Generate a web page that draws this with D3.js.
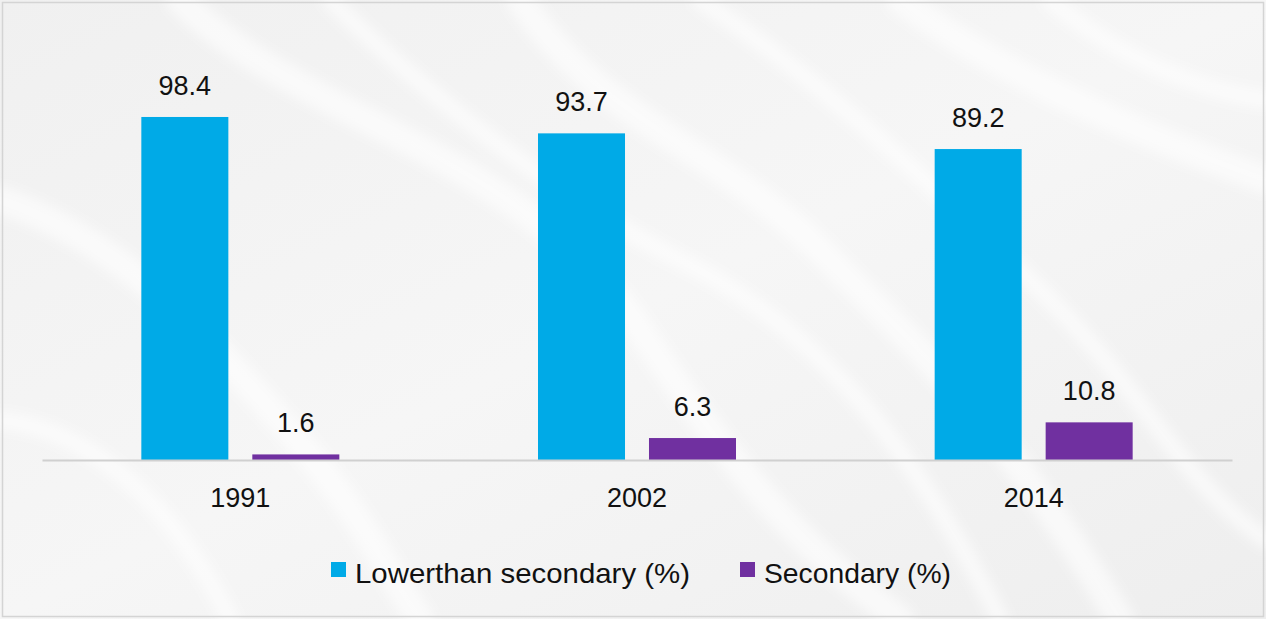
<!DOCTYPE html>
<html><head><meta charset="utf-8">
<script src="https://cdn.jsdelivr.net/npm/d3@7"></script>
<style>
html,body{margin:0;padding:0;background:#f4f4f4;}
svg{display:block;}
text{font-family:"Liberation Sans Narrow","Liberation Sans",Arial,sans-serif;fill:#111;}
</style></head>
<body>
<svg id="chart" width="1266" height="619"></svg>
<script>
const categories = ["1991", "2002", "2014"];
const seriesNames = ["Lowerthan secondary (%)", "Secondary (%)"];
const lowerThanSecondary = [98.4, 93.7, 89.2];
const secondary = [1.6, 6.3, 10.8];
const colors = ["#00aae7", "#7030a0"];

const svg = d3.select("#chart");
const W = 1266, H = 619;

// background
const defs = svg.append("defs");
const lg = defs.append("linearGradient").attr("id","bg").attr("x1","0").attr("y1","0").attr("x2","1").attr("y2","1");
lg.append("stop").attr("offset","0%").attr("stop-color","#f0f0f0");
lg.append("stop").attr("offset","50%").attr("stop-color","#f6f6f6");
lg.append("stop").attr("offset","100%").attr("stop-color","#eeeeee");
defs.append("filter").attr("id","blur").append("feGaussianBlur").attr("stdDeviation",6);
svg.append("rect").attr("width",W).attr("height",H).attr("fill","url(#bg)");
const waves = svg.append("g").attr("fill","none").attr("stroke","#ffffff").attr("stroke-linecap","round").attr("filter","url(#blur)");
[
 "M180,0 C300,120 520,150 640,330 S820,560 900,619",
 "M330,0 C420,90 560,200 680,260 S900,420 1000,619",
 "M520,0 C600,120 720,150 820,250 S1000,420 1120,619",
 "M700,0 C820,80 950,200 1050,300 S1180,480 1266,540",
 "M0,200 C120,240 200,330 280,420 S380,560 420,619",
 "M0,420 C90,430 170,500 230,619",
 "M900,0 C980,60 1100,120 1266,180",
 "M1050,0 C1120,60 1200,90 1266,100"
].forEach((d,i)=>{
  waves.append("path").attr("d",d).attr("stroke-width", i%2?18:28).attr("opacity",0.6);
});
svg.append("rect").attr("x",2.5).attr("y",2.5).attr("width",W-5).attr("height",H-5)
  .attr("fill","none").attr("stroke","#d4d4d4").attr("stroke-width",1.5);

const plotLeft = 42, plotRight = 1232, baseline = 460;
const x0 = d3.scaleBand().domain(categories).range([plotLeft, plotRight]).padding(0);
const groupW = 198;
const x1 = d3.scaleBand().domain(seriesNames).range([0, groupW]).paddingInner(0.216).paddingOuter(0);
const y = d3.scaleLinear().domain([0, 100]).range([baseline, baseline - 348.6]);

const data = categories.map((c,i)=>({cat:c, vals:[lowerThanSecondary[i], secondary[i]]}));

const groups = svg.append("g").selectAll("g").data(data).join("g")
  .attr("transform", d => `translate(${x0(d.cat) + x0.bandwidth()/2 - groupW/2},0)`);

groups.selectAll("rect").data(d => d.vals.map((v,j)=>({name:seriesNames[j], v, j})))
  .join("rect")
  .attr("x", d => x1(d.name))
  .attr("y", d => y(d.v))
  .attr("width", x1.bandwidth())
  .attr("height", d => baseline - y(d.v))
  .attr("fill", d => colors[d.j]);

groups.selectAll("text.val").data(d => d.vals.map((v,j)=>({name:seriesNames[j], v, j})))
  .join("text").attr("class","val")
  .attr("x", d => x1(d.name) + x1.bandwidth()/2)
  .attr("y", d => y(d.v) - 22)
  .attr("text-anchor","middle")
  .attr("font-size", 27)
  .text(d => d.v.toFixed(1));

// axis
const xAxis = svg.append("g").attr("transform",`translate(0,${baseline})`)
  .call(d3.axisBottom(x0).tickSize(0).tickPadding(28));
xAxis.select(".domain").attr("stroke","#d0d0d0").attr("stroke-width",2);
xAxis.selectAll("text").attr("font-size",27).attr("fill","#111")
  .style("font-family",'"Liberation Sans Narrow","Liberation Sans",Arial,sans-serif');

// legend
const legend = svg.append("g");
const legX = [331, 740];
const legW = [335, 187];
seriesNames.forEach((n,i)=>{
  const g = legend.append("g").attr("transform",`translate(${legX[i]},0)`);
  g.append("rect").attr("x",0).attr("y",562).attr("width",15).attr("height",15).attr("fill",colors[i]);
  g.append("text").attr("x",24).attr("y",583).attr("font-size",28)
    .attr("textLength", legW[i]).attr("lengthAdjust","spacingAndGlyphs").text(n);
});
</script>
</body></html>
